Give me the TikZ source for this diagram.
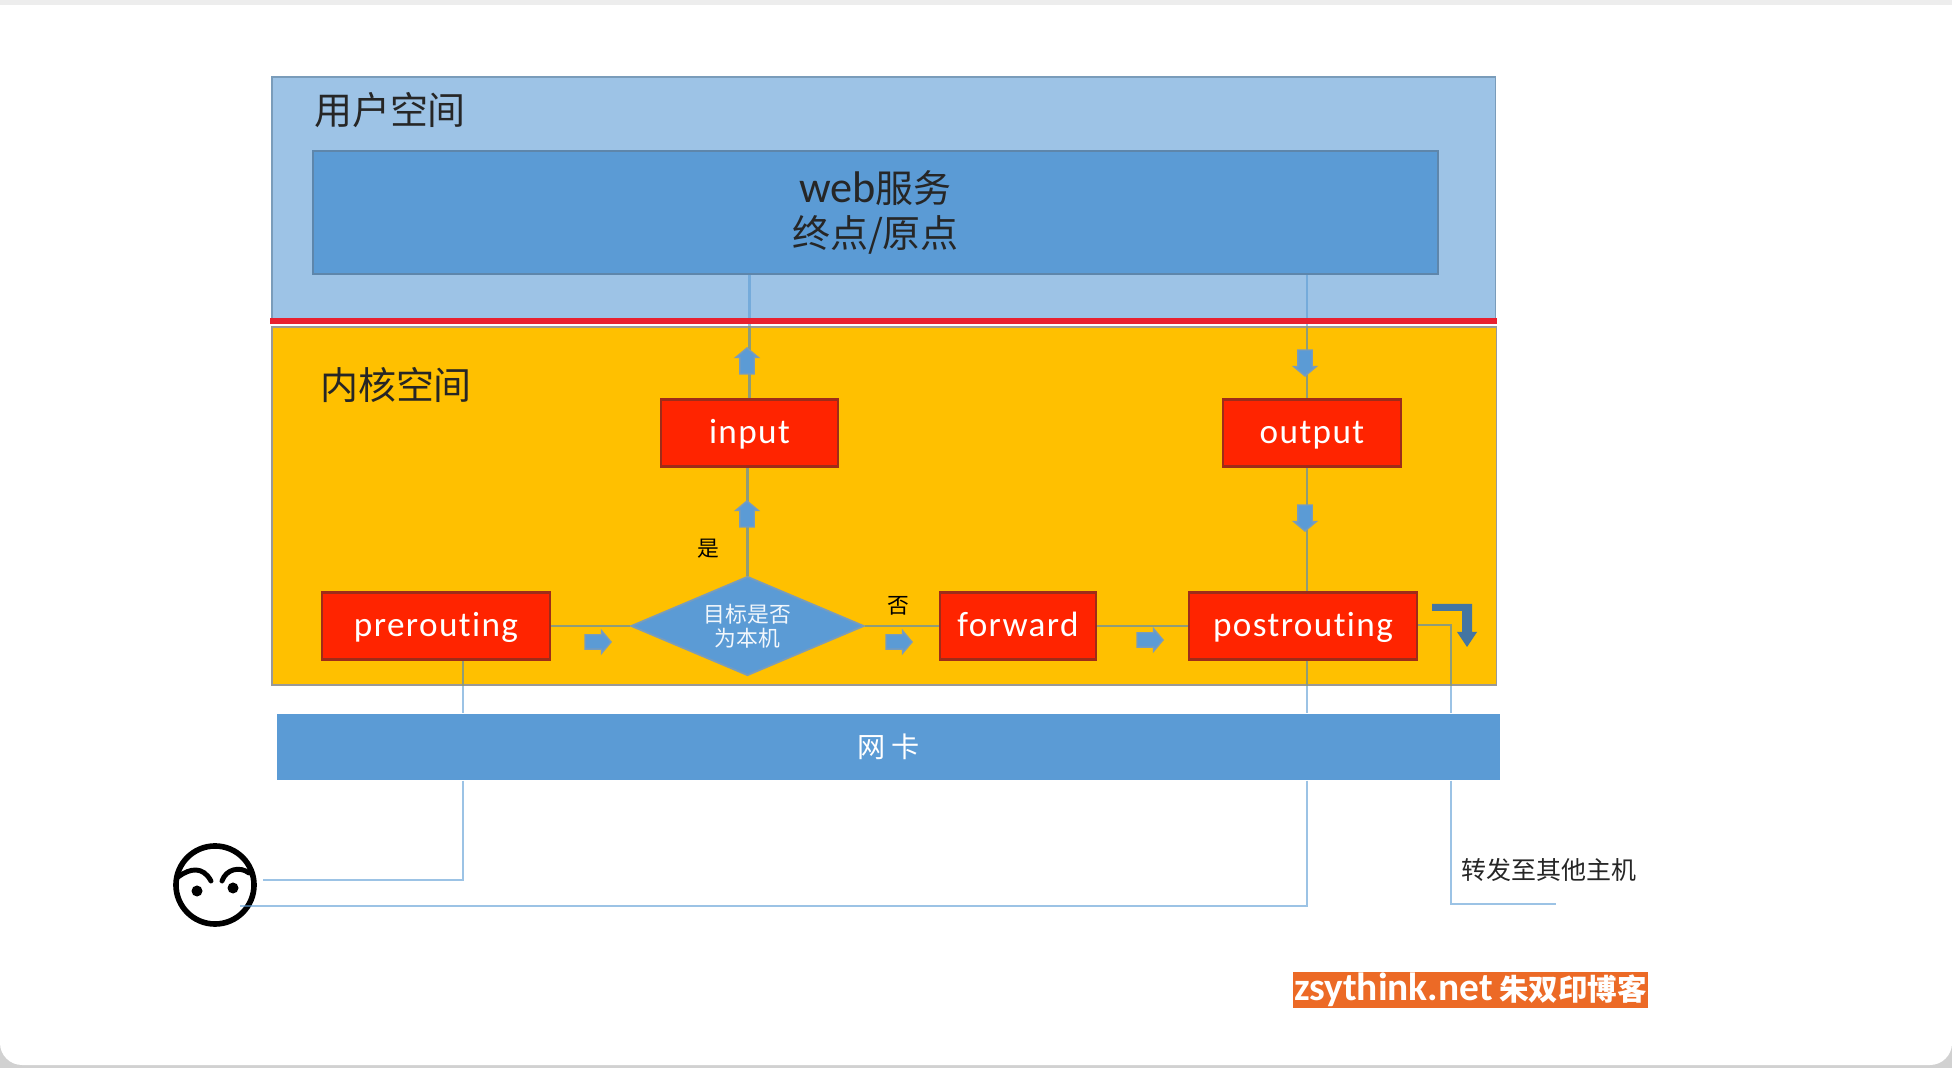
\documentclass[tikz,border=0pt]{standalone}
\usepackage{fontspec}
\setmainfont{Carlito}
\newfontfamily\cjk{Noto Sans CJK SC}
\newfontfamily\spaced[LetterSpace=4,Ligatures=NoCommon]{Carlito}
\usetikzlibrary{shapes.geometric,shapes.arrows}
\definecolor{lightblue}{HTML}{9DC3E6}
\definecolor{midblue}{HTML}{5B9BD5}
\definecolor{edgeblue}{HTML}{41719C}
\definecolor{kernelyellow}{HTML}{FFC000}
\definecolor{hookred}{HTML}{FF2400}
\definecolor{kernelline}{HTML}{8F9C78}
\definecolor{markorange}{HTML}{EC6A26}
\definecolor{dividerred}{HTML}{E8202F}
\tikzset{
  hookbox/.style={draw=black!35!hookred!80!gray,line width=0.6pt,fill=hookred,text=white,
    minimum height=0.67cm,inner sep=0pt,text height=0.28cm,text depth=0.06cm,
    font=\spaced\fontsize{10}{12}\selectfont},
  conn/.style={draw=midblue,draw opacity=0.6,line width=0.6pt},
  kernelconn/.style={draw=kernelline,line width=0.6pt},
  flowarrow/.style={single arrow,draw=edgeblue!70,line width=0.4pt,fill=midblue,
    inner xsep=0pt,inner ysep=0.065cm,minimum height=0.26cm,
    single arrow head extend=0.04cm,single arrow tip angle=100},
  tag/.style={inner sep=0pt,font=\cjk\fontsize{6.2}{7.5}\selectfont}
}
\begin{document}
\begin{tikzpicture}[x=0.01cm,y=-0.01cm]
  \useasboundingbox (0,0) rectangle (1952,1068);
  % window frame
  \fill[black!18] (0,0) rectangle (1952,1068);
  \fill[white,rounded corners=0.22cm] (0,-40) rectangle (1952,1065);
  \fill[black!7] (0,0) rectangle (1952,5);

  % panels
  \node[draw=edgeblue!70,line width=0.5pt,fill=lightblue,minimum width=12.23cm,minimum height=2.45cm,inner sep=0pt] (user) at (883.5,199.5) {};
  \node[draw=black!40,line width=0.5pt,fill=kernelyellow,minimum width=12.24cm,minimum height=3.58cm,inner sep=0pt] (kernel) at (884,506) {};
  \node[inner sep=0pt,font=\cjk\fontsize{10.8}{13}\selectfont,text=black!85] (userlabel) at (390,110) {用户空间};
  \node[inner sep=0pt,font=\cjk\fontsize{10.8}{13}\selectfont,text=black!85] (kernellabel) at (396,385) {内核空间};

  % web service and network card
  \node[draw=edgeblue!85,line width=0.5pt,fill=midblue,minimum width=11.25cm,minimum height=1.23cm,inner sep=0pt,align=center,text=black!85,font=\fontsize{12.6}{12.6}\selectfont] (web) at (875.5,212.5) {web{\cjk\fontsize{10.8}{12.6}\selectfont 服务}\\{\cjk\fontsize{10.8}{12.6}\selectfont 终点/原点}};
  \node[fill=midblue,minimum width=12.23cm,minimum height=0.66cm,inner sep=0pt,text=white,font=\cjk\fontsize{8}{10}\selectfont] (nic) at (888.5,747) {网 卡};

  % hooks
  \node[hookbox,minimum width=1.77cm] (input) at (749.5,433) {input};
  \node[hookbox,minimum width=1.78cm] (output) at (1312,433) {output};
  \node[hookbox,minimum width=2.28cm] (prerouting) at (436,626) {prerouting};
  \node[hookbox,minimum width=1.56cm] (forward) at (1018,626) {forward};
  \node[hookbox,minimum width=2.28cm] (postrouting) at (1303,626) {postrouting};
  \node[diamond,draw=edgeblue!70,line width=0.5pt,fill=midblue,minimum width=2.33cm,minimum height=0.99cm,inner sep=0pt,aspect=2.35,align=center,text=white!92!midblue,font=\cjk\fontsize{6.2}{6.9}\selectfont] (target) at (747.5,626) {目标是否\\为本机};

  % face
  \node[circle,draw=black,line width=1.6pt,minimum size=0.78cm,inner sep=0pt] (face) at (215,885) {};
  \draw[line width=1.4pt,line cap=round] (178,877) .. controls (190,868) and (203,866) .. (211,881);
  \draw[line width=1.4pt,line cap=round] (222,881) .. controls (226,869) and (240,866) .. (249,873);
  \fill (197,891) circle (0.055cm);
  \fill (233,888) circle (0.055cm);

  % free ends and line positions
  \coordinate (faceup) at (263,880);
  \coordinate (facelow) at (240,906);
  \coordinate (prex) at (463,659);
  \coordinate (outx) at (1307,400);
  \coordinate (fwdx) at (1451,625);
  \coordinate (fwdend) at (1556,904);

  % connectors
  \draw[kernelconn] (prerouting.east) -- (target.west);
  \draw[kernelconn] (target.east) -- (forward.west);
  \draw[kernelconn] (forward.east) -- (postrouting.west);
  \draw[kernelconn] (target.north) -- (target.north |- input.south);
  \draw[kernelconn] (input.north) -- (input.north |- kernel.north);
  \draw[conn] (input.north |- kernel.north) -- (input.north |- web.south);
  \draw[conn] (outx |- web.south) -- (outx |- kernel.north);
  \draw[kernelconn] (outx |- kernel.north) -- (outx |- output.north);
  \draw[kernelconn] (outx |- output.south) -- (outx |- postrouting.north);
  \draw[kernelconn] (outx |- postrouting.south) -- (outx |- kernel.south);
  \draw[conn] (outx |- kernel.south) -- (outx |- nic.north);
  \draw[conn] (outx |- nic.south) |- (facelow);
  \draw[kernelconn] (prex |- prerouting.south) -- (prex |- kernel.south);
  \draw[conn] (prex |- kernel.south) -- (prex |- nic.north);
  \draw[conn] (prex |- nic.south) |- (faceup);
  \draw[kernelconn] (postrouting.east |- fwdx) -- (fwdx) -- (fwdx |- kernel.south);
  \draw[conn] (fwdx |- kernel.south) -- (fwdx |- nic.north);
  \draw[conn] (fwdx |- nic.south) |- (fwdend);

  % divider
  \draw[draw=dividerred,line width=1.7pt] (270,321) -- (1497,321);

  % flow arrows
  \node[flowarrow,rotate=90] (upa) at (747,364) {};
  \node[flowarrow,rotate=90] (upb) at (747,517) {};
  \node[flowarrow,rotate=-90] (downa) at (1305,360) {};
  \node[flowarrow,rotate=-90] (downb) at (1305,515) {};
  \node[flowarrow] (righta) at (595,642) {};
  \node[flowarrow] (rightb) at (896,642) {};
  \node[flowarrow] (rightc) at (1147,640) {};
  \fill[edgeblue!90!midblue] (1432,604) -- (1472,604) -- (1472,632) -- (1477,632) -- (1467,647) -- (1457,632) -- (1462,632) -- (1462,611) -- (1432,611) -- cycle;

  % labels
  \node[tag] (yes) at (708,549) {是};
  \node[tag] (no) at (898,606) {否};
  \node[inner sep=0pt,text=black!85,font=\cjk\fontsize{7.1}{9}\selectfont] (forwardlabel) at (1549,870) {转发至其他主机};
  \node[fill=markorange,minimum width=3.55cm,minimum height=0.36cm,inner sep=0pt,text=white] (mark) at (1470.5,990) {\fontsize{11.2}{12}\selectfont\bfseries zsythink.net\,{\cjk\fontsize{8.4}{10}\selectfont 朱双印博客}};
\end{tikzpicture}
\end{document}
